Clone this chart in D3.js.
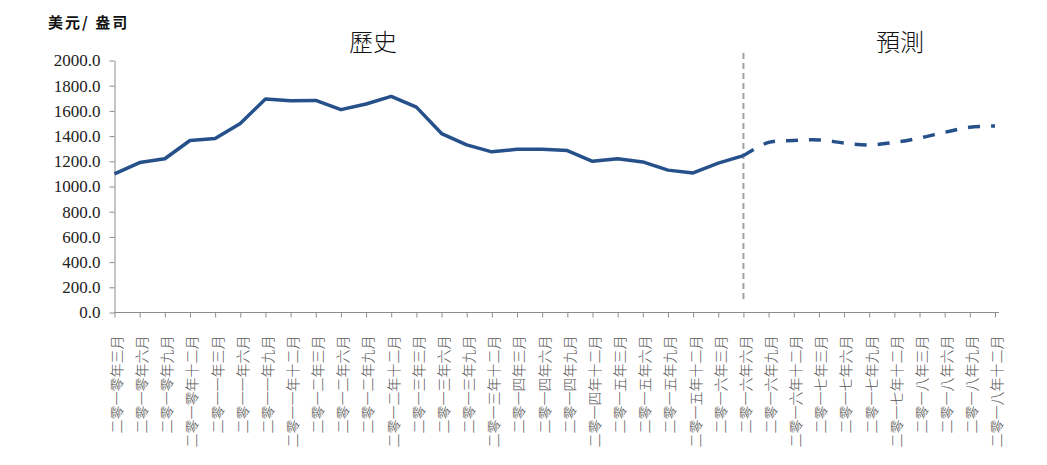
<!DOCTYPE html>
<html>
<head>
<meta charset="utf-8">
<script src="https://cdn.jsdelivr.net/npm/d3@7"></script>
<style>
  body { margin: 0; background: #fff; }
  svg { display: block; }
  .ylab { font-family: "Liberation Serif", "Times New Roman", Times, serif; }
</style>
</head>
<body>
<div id="chart"></div>
<script>
// quarter labels, 2010Q1 .. 2018Q4
var quarters = [
  '二零一零年三月', '二零一零年六月', '二零一零年九月', '二零一零年十二月',
  '二零一一年三月', '二零一一年六月', '二零一一年九月', '二零一一年十二月',
  '二零一二年三月', '二零一二年六月', '二零一二年九月', '二零一二年十二月',
  '二零一三年三月', '二零一三年六月', '二零一三年九月', '二零一三年十二月',
  '二零一四年三月', '二零一四年六月', '二零一四年九月', '二零一四年十二月',
  '二零一五年三月', '二零一五年六月', '二零一五年九月', '二零一五年十二月',
  '二零一六年三月', '二零一六年六月', '二零一六年九月', '二零一六年十二月',
  '二零一七年三月', '二零一七年六月', '二零一七年九月', '二零一七年十二月',
  '二零一八年三月', '二零一八年六月', '二零一八年九月', '二零一八年十二月'
];

// history: 2010Q1 .. 2016Q2
var pastPrices = [1100, 1190, 1220, 1365, 1380, 1500, 1695, 1680, 1683, 1610,
  1655, 1715, 1630, 1420, 1330, 1275, 1295, 1295, 1285, 1200,
  1220, 1195, 1130, 1108, 1185, 1245];

// forecast: 2016Q2 .. 2018Q4
var forecastPrices = [1245, 1350, 1365, 1370, 1345, 1330, 1350, 1385, 1430, 1470, 1480];

var yTicks = [0, 200, 400, 600, 800, 1000, 1200, 1400, 1600, 1800, 2000];
var unitLabel = '美元/ 盎司';
var sectionLabels = ['歷史', '預測'];
var splitAt = '二零一六年六月';

var width = 1047,
  height = 465,
  margin = {top: 60.5, right: 52, bottom: 152.5, left: 114.5},
  lineColor = '#25508a',
  axisColor = '#8c8c8c',
  cjkFont = '"Noto Sans CJK TC", "Noto Sans CJK SC", sans-serif';

var x = d3.scalePoint()
  .domain(quarters)
  .range([margin.left, width - margin.right]);

var y = d3.scaleLinear()
  .domain([0, 2000])
  .range([height - margin.bottom, margin.top]);

var svg = d3.select('#chart')
  .append('svg')
  .attr('width', width)
  .attr('height', height);

// y axis
var yAxis = svg.append('g')
  .attr('transform', 'translate(' + margin.left + ',0)')
  .call(d3.axisLeft(y)
    .tickValues(yTicks)
    .tickFormat(d3.format('.1f'))
    .tickSize(5)
    .tickSizeOuter(0))
  .attr('font-family', null)
  .attr('font-size', 17);

yAxis.select('.domain').attr('stroke', axisColor);
yAxis.selectAll('.tick line').attr('stroke', axisColor);
yAxis.selectAll('.tick text')
  .attr('class', 'ylab')
  .attr('x', -14)
  .attr('fill', '#222');

// x axis
var xAxis = svg.append('g')
  .attr('transform', 'translate(0,' + (height - margin.bottom) + ')')
  .call(d3.axisBottom(x)
    .tickSize(5)
    .tickSizeOuter(0))
  .attr('font-family', cjkFont)
  .attr('font-size', 14);

xAxis.select('.domain').attr('stroke', axisColor)
  .attr('d', 'M' + margin.left + ',0H' + (width - margin.right + 4));
xAxis.selectAll('.tick line').attr('stroke', axisColor);
xAxis.selectAll('.tick text')
  .attr('transform', 'rotate(-90)')
  .attr('x', -23)
  .attr('y', 2)
  .attr('dy', '0.35em')
  .style('text-anchor', 'end')
  .style('font-weight', 300)
  .attr('fill', '#555');

// split marker between history and forecast
svg.append('line')
  .attr('x1', x(splitAt))
  .attr('x2', x(splitAt))
  .attr('y1', 53)
  .attr('y2', 302)
  .attr('stroke', '#a0a0a0')
  .attr('stroke-width', 2)
  .attr('stroke-dasharray', '6,4');

var pastLine = d3.line()
  .x((d, i) => x(quarters[i]))
  .y((d) => y(d));

var foreStart = quarters.indexOf(splitAt);
var foreLine = d3.line()
  .x((d, i) => x(quarters[foreStart + i]))
  .y((d) => y(d))
  .curve(d3.curveCatmullRom);

svg.append('path')
  .datum(pastPrices)
  .attr('d', pastLine)
  .attr('fill', 'none')
  .attr('stroke', lineColor)
  .attr('stroke-width', 3.5)
  .attr('stroke-linejoin', 'round');

svg.append('path')
  .datum(forecastPrices)
  .attr('d', foreLine)
  .attr('fill', 'none')
  .attr('stroke', lineColor)
  .attr('stroke-width', 3.5)
  .attr('stroke-dasharray', '12,11');

// texts
svg.append('text')
  .attr('x', 48)
  .attr('y', 28)
  .text(unitLabel)
  .style('font-family', cjkFont)
  .style('font-weight', 700)
  .style('font-size', '15px')
  .style('letter-spacing', '2px')
  .style('white-space', 'pre')
  .attr('fill', '#111');

svg.selectAll('.section')
  .data(sectionLabels)
  .enter()
  .append('text')
  .attr('class', 'section')
  .attr('x', (d, i) => i === 0 ? 373 : 900)
  .attr('y', 51)
  .attr('text-anchor', 'middle')
  .text((d) => d)
  .style('font-family', cjkFont)
  .style('font-weight', 300)
  .style('font-size', '24px')
  .attr('fill', '#111');
</script>
</body>
</html>
